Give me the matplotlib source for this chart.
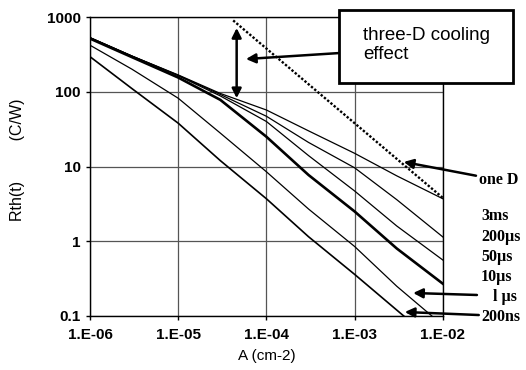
import matplotlib.pyplot as plt
from matplotlib.patches import Rectangle

# area A (cm-2) and thermal resistance readings (C/W)
area = [1e-6, 3e-6, 1e-5, 3e-5, 1e-4, 3e-4, 1e-3, 3e-3, 1e-2]
r_3ms = [530, 300, 168, 95, 57, 30, 15, 7.5, 3.7]
r_200us = [530, 300, 166, 92, 47, 21, 9.6, 3.6, 1.14]
r_50us = [530, 300, 164, 88, 40, 14, 4.7, 1.6, 0.56]
r_10us = [515, 290, 155, 78, 25, 7.7, 2.5, 0.8, 0.27]
r_1us = [420, 200, 82, 28, 8.5, 2.7, 0.85, 0.25, 0.075]
r_200ns = [295, 110, 38, 12, 3.7, 1.15, 0.36, 0.12, 0.036]

oned_area = [4.2e-5, 1e-2]
oned_r = [900, 3.8]

labels = ['3ms', '200\u00b5s', '50\u00b5s', '10\u00b5s', 'l \u00b5s', '200ns']
label_y = [2.18, 1.14, 0.62, 0.33, 0.18, 0.097]
xticks = [1e-6, 1e-5, 1e-4, 1e-3, 1e-2]
xticklabels = ['1.E-06', '1.E-05', '1.E-04', '1.E-03', '1.E-02']
yticks = [0.1, 1, 10, 100, 1000]
yticklabels = ['0.1', '1', '10', '100', '1000']

plt.rcParams['font.family'] = ['Liberation Sans', 'DejaVu Sans']

fig = plt.figure(figsize=(5.26, 3.70), dpi=100)
ax = fig.add_axes([0.171, 0.146, 0.671, 0.808])

ax.plot(area, r_3ms, color='black', lw=0.9)
ax.plot(area, r_200us, color='black', lw=0.9)
ax.plot(area, r_50us, color='black', lw=0.9)
ax.plot(area, r_10us, color='black', lw=1.9)
ax.plot(area, r_1us, color='black', lw=0.9)
ax.plot(area, r_200ns, color='black', lw=1.2)
ax.plot(oned_area, oned_r, color='black', lw=1.7, ls=(0, (1, 0.8)))

ax.set_xscale('log')
ax.set_yscale('log')
ax.set_xlim(1e-6, 1e-2)
ax.set_ylim(0.1, 1000)
ax.set_xticks(xticks)
ax.set_xticklabels(xticklabels, fontweight='bold', fontsize=11)
ax.set_yticks(yticks)
ax.set_yticklabels(yticklabels, fontweight='bold', fontsize=11)
ax.minorticks_off()
ax.tick_params(direction='out', length=3, width=1)
ax.tick_params(axis='x', pad=6)
ax.grid(True, color='#555555', lw=0.9)
for s in ax.spines.values():
    s.set_linewidth(1.0)

ax.set_xlabel('A (cm-2)', fontsize=11, labelpad=5)
fig.text(0.034, 0.568, 'Rth(t)         (C/W)', fontsize=11.5, rotation=90,
         ha='center', va='center')

# double arrow: three-D cooling effect
ax.annotate('', xy=(4.6e-5, 82), xytext=(4.6e-5, 713),
            arrowprops=dict(arrowstyle='<|-|>', color='black', lw=1.8,
                            mutation_scale=14, shrinkA=0, shrinkB=0))

# box with text, partly outside the axes
fig.patches.append(Rectangle((0.644, 0.776), 0.331, 0.197, transform=fig.transFigure,
                             fc='white', ec='black', lw=2, zorder=5))
fig.text(0.690, 0.878, 'three-D cooling\neffect', fontsize=13.5, ha='left', va='center',
         linespacing=1.15, zorder=6)

ax.annotate('', xy=(5.86e-5, 274), xytext=(6.8e-4, 330), annotation_clip=False,
            arrowprops=dict(arrowstyle='-|>', color='black', lw=1.8,
                            mutation_scale=14, shrinkA=0, shrinkB=0))

# one D label and arrow
ax.annotate('one D', xy=(3.6e-3, 11.5), xytext=(0.0255, 6.6),
            fontsize=11.5, family=['Liberation Serif'], fontweight='bold',
            va='center', ha='left', annotation_clip=False,
            arrowprops=dict(arrowstyle='-|>', color='black', lw=1.8,
                            mutation_scale=14, shrinkA=0, shrinkB=0))

# time labels
for i, (lab, yy) in enumerate(zip(labels, label_y)):
    xx = 0.027 if i != 4 else 0.037
    ax.text(xx, yy, lab, fontsize=11.5, family=['Liberation Serif'], fontweight='bold',
            va='center', ha='left', clip_on=False)

ax.annotate('', xy=(4.6e-3, 0.203), xytext=(0.0243, 0.191), annotation_clip=False,
            arrowprops=dict(arrowstyle='-|>', color='black', lw=1.8,
                            mutation_scale=14, shrinkA=0, shrinkB=0))
ax.annotate('', xy=(3.7e-3, 0.113), xytext=(0.0255, 0.103), annotation_clip=False,
            arrowprops=dict(arrowstyle='-|>', color='black', lw=1.8,
                            mutation_scale=14, shrinkA=0, shrinkB=0))

fig.savefig('out.png', dpi=100)
